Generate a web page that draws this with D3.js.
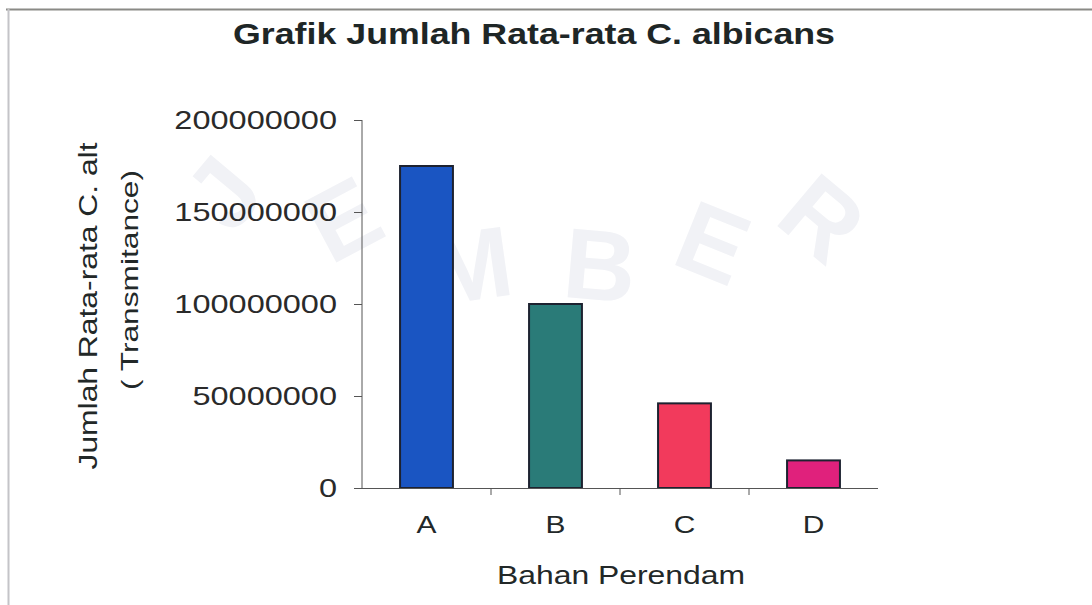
<!DOCTYPE html>
<html>
<head>
<meta charset="utf-8">
<script src="https://cdn.jsdelivr.net/npm/d3@7"></script>
<style>
  body { margin: 0; background: #fff; }
  svg { display: block; }
  text { font-family: "Liberation Sans", Arial, sans-serif; fill: #222828; }
  .axis path, .axis line { stroke: #555; }
</style>
</head>
<body>
<div class="chart-container"></div>
<script>
// data
var categories = ["A", "B", "C", "D"];
var values = [175000000, 100000000, 46000000, 15000000];
var barColors = ["#1a55c2", "#2a7b78", "#f23a5c", "#e0217c"];
var yTicks = [0, 50000000, 100000000, 150000000, 200000000];
var watermark = ["J", "E", "M", "B", "E", "R"];

var width = 1092,
    height = 605;

var plot = { left: 362, right: 878, top: 120, bottom: 488 };

var svg = d3.select(".chart-container").append("svg")
    .attr("width", width)
    .attr("height", height);

// stretch text along its baseline, the scan has a wide face
function widen(sel, k) {
  sel.each(function() {
    var l = this.getComputedTextLength();
    d3.select(this).attr("textLength", l * k).attr("lengthAdjust", "spacingAndGlyphs");
  });
}

// page frame (scanned border)
svg.append("line")
    .attr("x1", 6).attr("x2", width)
    .attr("y1", 9.5).attr("y2", 9.5)
    .style("stroke", "#8a8a86").style("stroke-width", 2);
svg.append("line")
    .attr("x1", 8.5).attr("x2", 8.5)
    .attr("y1", 9).attr("y2", height)
    .style("stroke", "#c4c4c8").style("stroke-width", 2);

// faint watermark
var wmPos = [[250, 215, -50], [360, 250, -28], [475, 300, -8], [597, 300, 5], [700, 275, 22], [800, 245, 40]];
svg.append("g").selectAll("text")
    .data(watermark)
    .enter()
    .append("text")
    .attr("transform", function(d, i) {
      return "translate(" + wmPos[i][0] + "," + wmPos[i][1] + ") rotate(" + wmPos[i][2] + ")";
    })
    .style("text-anchor", "middle")
    .style("font-weight", "bold")
    .style("font-size", "100px")
    .style("fill", "#f1f2f6")
    .text(function(d) { return d; });

var xScale = d3.scaleBand()
    .domain(categories)
    .range([plot.left, plot.right])
    .paddingInner(0.59)
    .paddingOuter(0.295);

var yScale = d3.scaleLinear()
    .domain([0, 200000000])
    .range([plot.bottom, plot.top]);

// bars
svg.selectAll(".bar")
    .data(values)
    .enter()
    .append("rect")
    .attr("class", "bar")
    .attr("x", function(d, i) { return xScale(categories[i]); })
    .attr("y", function(d) { return yScale(d); })
    .attr("width", xScale.bandwidth())
    .attr("height", function(d) { return plot.bottom - yScale(d); })
    .style("fill", function(d, i) { return barColors[i]; })
    .style("stroke", "#1d2230")
    .style("stroke-width", 2);

// y axis
var yaxis = d3.axisLeft(yScale)
    .tickValues(yTicks)
    .tickFormat(d3.format("d"))
    .tickSize(8)
    .tickPadding(17);

var yg = svg.append("g")
    .attr("class", "axis")
    .attr("transform", "translate(" + plot.left + ",0)")
    .call(yaxis)
    .call(function(g) { g.select(".domain").attr("d", "M0," + plot.top + "V" + plot.bottom); });
yg.selectAll("text")
    .style("font-size", "25px")
    .style("font-family", "Liberation Sans, Arial, sans-serif")
    .style("fill", "#2a2a2a")
    .call(widen, 1.3);

// x axis with ticks between categories
var xaxisLine = d3.scaleLinear().domain([0, 4]).range([plot.left, plot.right]);
var xg = svg.append("g")
    .attr("class", "axis")
    .attr("transform", "translate(0," + plot.bottom + ")");
xg.append("path")
    .attr("d", "M" + plot.left + ",0.5H" + plot.right)
    .style("fill", "none");
xg.selectAll(".xtick")
    .data([1, 2, 3])
    .enter()
    .append("line")
    .attr("x1", function(d) { return xaxisLine(d); })
    .attr("x2", function(d) { return xaxisLine(d); })
    .attr("y1", 0).attr("y2", 7);
xg.selectAll(".xlabel")
    .data(categories)
    .enter()
    .append("text")
    .attr("x", function(d) { return xScale(d) + xScale.bandwidth() / 2; })
    .attr("y", 45)
    .style("text-anchor", "middle")
    .style("font-size", "23px")
    .call(widen, 1.3);

xg.selectAll("text").text(function(d) { return d; }).call(widen, 1.3);

// titles
svg.append("text")
    .attr("x", 534)
    .attr("y", 44)
    .attr("textLength", 602)
    .attr("lengthAdjust", "spacingAndGlyphs")
    .style("text-anchor", "middle")
    .style("font-weight", "bold")
    .style("font-size", "30px")
    .style("fill", "#1e2626")
    .text("Grafik Jumlah Rata-rata C. albicans");

svg.append("text")
    .attr("x", 621)
    .attr("y", 584)
    .attr("textLength", 248)
    .attr("lengthAdjust", "spacingAndGlyphs")
    .style("text-anchor", "middle")
    .style("font-size", "26px")
    .text("Bahan Perendam");

svg.append("text")
    .attr("transform", "translate(97,306) rotate(-90)")
    .attr("textLength", 327)
    .attr("lengthAdjust", "spacingAndGlyphs")
    .style("text-anchor", "middle")
    .style("font-size", "25px")
    .text("Jumlah Rata-rata C. alt");

svg.append("text")
    .attr("transform", "translate(138,280) rotate(-90)")
    .attr("textLength", 220)
    .attr("lengthAdjust", "spacingAndGlyphs")
    .style("text-anchor", "middle")
    .style("font-size", "24px")
    .text("( Transmitance)");
</script>
</body>
</html>
